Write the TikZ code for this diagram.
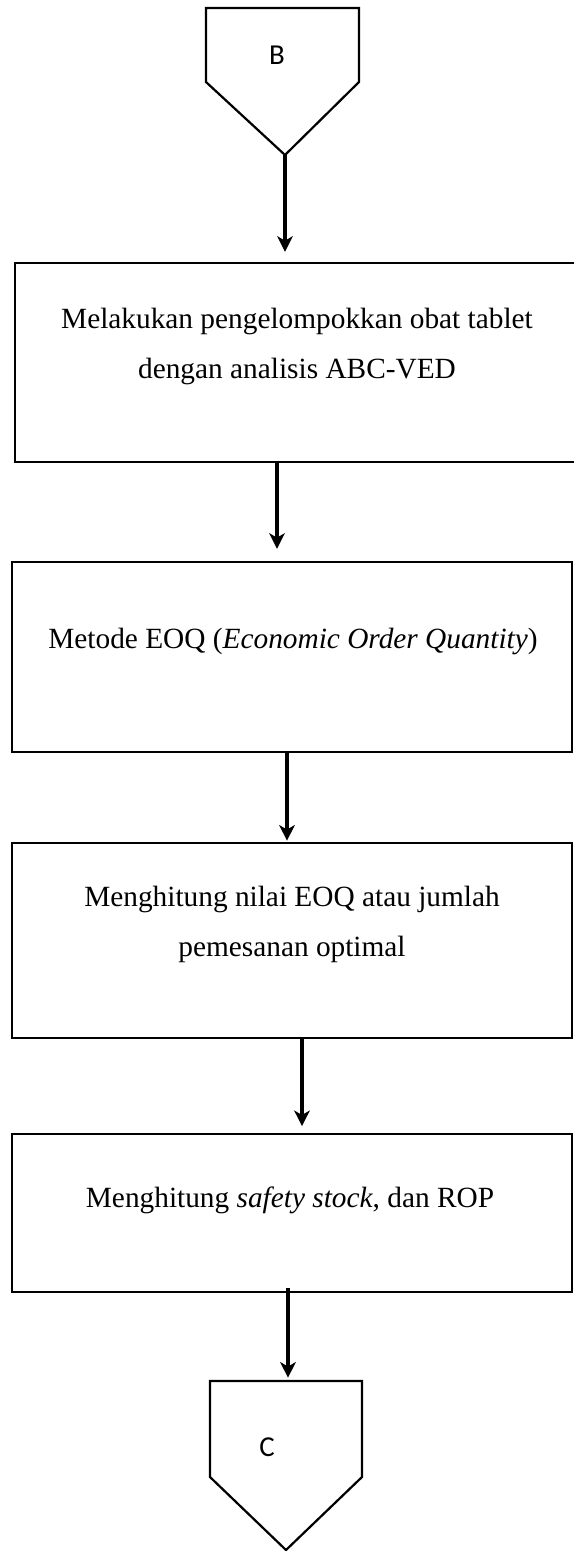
\documentclass[tikz,border=0pt]{standalone}
\usepackage{fontspec}
\setmainfont{Liberation Serif}
\newfontfamily\connfont{Carlito}
\usetikzlibrary{arrows.meta}

\begin{document}
\begin{tikzpicture}[x=0.45pt,y=-0.45pt,
		flow/.style = {line width=1.5pt,-{Stealth[length=7pt,width=7pt,inset=2pt]}},
		conn/.style = {line width=1pt,line join=miter},
		txt/.style = {align=center,inner sep=0pt,font=\fontsize{13.2}{22.5}\selectfont}]
					\useasboundingbox (0,0) rectangle (574,1551);
					% off-page connectors
					\draw [conn] (206,8) -- (359,8) -- (359,82) -- (285,155) coordinate (Btip) -- (206,82) -- cycle;
					\draw [conn] (210,1381) -- (362,1381) -- (362,1477) -- (286,1550) -- (210,1477) -- cycle;
					\coordinate (Ctop) at (288,1381);
					\node[font=\connfont\fontsize{13}{15}\selectfont] (Blbl) at (277,55) {B};
					\node[font=\connfont\fontsize{13}{15}\selectfont] (Clbl) at (267,1447) {C};
					% process boxes
					\begin{scope}[every node/.style={draw,rectangle,line width=1.1pt,inner sep=0pt}]
						\node[minimum width=254.25pt,minimum height=89.55pt] (abc) at (297.5,362.5) {};
						\node[minimum width=252pt,minimum height=85.5pt] (eoq) at (292,657) {};
						\node[minimum width=252pt,minimum height=87.75pt] (nilai) at (292,940.5) {};
						\node[minimum width=252pt,minimum height=71.1pt] (rop) at (292,1213) {};
					\end{scope}
					\node[txt] (abcT) at (297,346) {Melakukan pengelompokkan obat tablet\\dengan analisis ABC-VED};
					\node[txt,anchor=base] (eoqT) at (293,648) {Metode EOQ (\textit{Economic Order Quantity})};
					\node[txt] (nilaiT) at (292,924) {Menghitung nilai EOQ atau jumlah\\pemesanan optimal};
					\node[txt,anchor=base] (ropT) at (290,1207) {Menghitung \textit{safety stock}, dan ROP};
					% arrows
					\draw [flow,shorten >=4.5pt] (Btip) -- (Btip |- abc.north);
					\draw [flow,shorten >=5.4pt] (277,0 |- abc.south) -- (277,0 |- eoq.north);
					\draw [flow,shorten >=0.5pt] (287,0 |- eoq.south) -- (287,0 |- nilai.north);
					\draw [flow,shorten >=3pt] (302,0 |- nilai.south) -- (302,0 |- rop.north);
					\draw [flow,shorten <=-2.5pt,shorten >=1.5pt] (Ctop |- rop.south) -- (Ctop);
				\end{tikzpicture}
\end{document}
